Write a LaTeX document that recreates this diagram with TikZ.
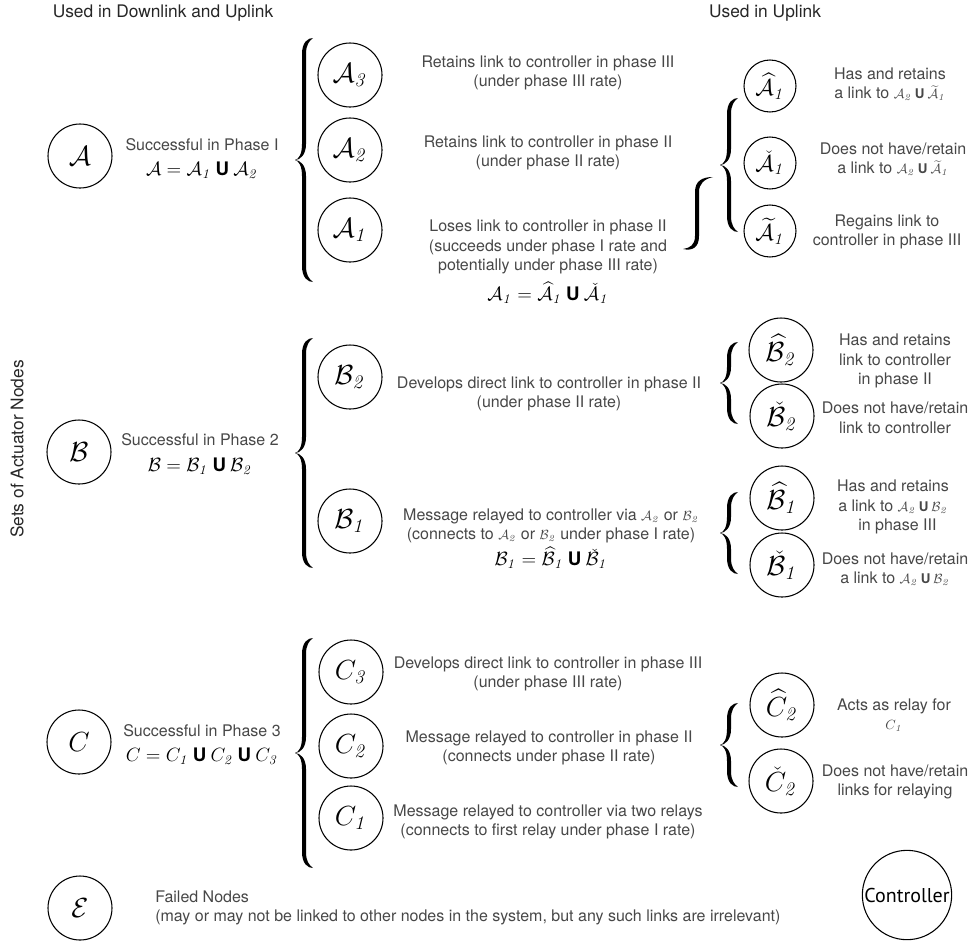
\documentclass[tikz,border=0pt]{standalone}
\usepackage{amsmath}
\usepackage{amssymb}
\usepackage[no-math]{fontspec}
\setmainfont{TeX Gyre Heros}
\newfontfamily\ctrlfont{PT Sans}
\usepackage{tikz}
\usetikzlibrary{positioning,calc}

\newcommand{\unionU}{\mathbin{\mbox{\bfseries U}}}
\newcommand{\ssub}[1]{_{\mathit{#1}}}
\newcommand{\sm}[1]{{\fontsize{10}{12}\selectfont$#1$}}

\tikzset{pics/curly/.style={code={
  \fill (18,-#1) .. controls (13,-#1) and (7,{-#1+4}) .. (7,{-#1+16}) -- (7,-16) .. controls (7,-6) and (4,-1) .. (0,0)
     .. controls (4,1) and (7,6) .. (7,16) -- (7,{#1-16}) .. controls (7,{#1-4}) and (13,#1) .. (18,#1)
     .. controls (14,{#1-3}) and (11,{#1-7}) .. (11,{#1-16}) -- (11,16) .. controls (11,5) and (5,0) .. (0,0)
     .. controls (5,0) and (11,-5) .. (11,-16) -- (11,{-#1+16}) .. controls (11,{-#1+7}) and (14,{-#1+3}) .. (18,-#1) -- cycle;
}}}

\begin{document}
\begin{tikzpicture}[x=0.75pt, y=-0.75pt,
  set/.style={circle, draw, line width=0.8pt, minimum size=48pt, inner sep=0pt, font=\fontsize{20}{24}\selectfont},
  part/.style={set, minimum size=39pt, font=\fontsize{18}{22}\selectfont},
  desc/.style={align=center, font=\fontsize{12}{14.6}\selectfont, text=black!72, inner sep=0pt},
  head/.style={font=\fontsize{13}{16}\selectfont, text=black!85},
  eq/.style={font=\fontsize{14}{17}\selectfont, inner sep=0pt}]

\useasboundingbox (0,0) rectangle (974,940);

\node[head](hdDL) at (163,13) {Used in Downlink and Uplink};
\node[head](hdUL) at (765,13) {Used in Uplink};
\node[head, rotate=90](side) at (17,449) {Sets of Actuator Nodes};

% phase I
\node[set](setA) at (80,156) {$\mathcal{A}$};
\node[desc](txtA) at (202,145) {Successful in Phase I};
\node[eq](eqA) at (202,170) {$\mathcal{A} = \mathcal{A}\ssub{1} \unionU \mathcal{A}\ssub{2}$};
\pic (brA) at (295,160) {curly=122};

\node[set](subA3) at (350,75) {$\mathcal{A}\ssub{3}$};
\node[set](subA2) at (350,150) {$\mathcal{A}\ssub{2}$};
\node[set](subA1) at (350,230) {$\mathcal{A}\ssub{1}$};
\node[desc](txtA3) at (548,73) {Retains link to controller in phase III\\(under phase III rate)};
\node[desc](txtA2) at (548,153) {Retains link to controller in phase II\\(under phase II rate)};
\node[desc](txtA1) at (548,247) {Loses link to controller in phase II\\(succeeds under phase I rate and\\potentially under phase III rate)};
\node[eq](eqA1) at (548,293) {$\mathcal{A}\ssub{1} = \widehat{\mathcal{A}}\ssub{1} \unionU \check{\mathcal{A}}\ssub{1}$};

% hook from A1 to its parts
\fill (683,249) .. controls (690,248) and (695,245) .. (695,236) -- (695,192) .. controls (695,181) and (702,177) .. (713,177)
  .. controls (704,179) and (699,184) .. (699,192) -- (699,236) .. controls (699,248) and (692,251) .. (683,249) -- cycle;
\pic (brA1) at (720,165) {curly=67};

\node[part](A1hat) at (770,86) {$\widehat{\mathcal{A}}\ssub{1}$};
\node[part](A1chk) at (770,163) {$\check{\mathcal{A}}\ssub{1}$};
\node[part](A1til) at (770,231) {$\widetilde{\mathcal{A}}\ssub{1}$};
\node[desc](txtA1hat) at (890,84) {Has and retains\\a link to \sm{\mathcal{A}\ssub{2}\unionU\widetilde{\mathcal{A}}\ssub{1}}};
\node[desc](txtA1chk) at (893,159) {Does not have/retain\\a link to \sm{\mathcal{A}\ssub{2}\unionU\widetilde{\mathcal{A}}\ssub{1}}};
\node[desc](txtA1til) at (887,232) {Regains link to\\controller in phase III};

% phase 2
\node[set](setB) at (79,452) {$\mathcal{B}$};
\node[desc](txtB) at (200,440) {Successful in Phase 2};
\node[eq](eqB) at (200,466) {$\mathcal{B} = \mathcal{B}\ssub{1} \unionU \mathcal{B}\ssub{2}$};
\pic (brB) at (295,453) {curly=115};

\node[set](subB2) at (350,377) {$\mathcal{B}\ssub{2}$};
\node[set](subB1) at (350,521) {$\mathcal{B}\ssub{1}$};
\node[desc](txtB2) at (549,394) {Develops direct link to controller in phase II\\(under phase II rate)};
\node[desc](txtB1) at (551,526) {Message relayed to controller via \sm{\mathcal{A}\ssub{2}} or \sm{\mathcal{B}\ssub{2}}\\(connects to \sm{\mathcal{A}\ssub{2}} or \sm{\mathcal{B}\ssub{2}} under phase I rate)};
\node[eq](eqB1) at (551,558) {$\mathcal{B}\ssub{1} = \widehat{\mathcal{B}}\ssub{1} \unionU \check{\mathcal{B}}\ssub{1}$};

\pic (brB2) at (720,383) {curly=41};
\pic (brB1) at (720,533) {curly=41};
\node[set](B2hat) at (781,350) {$\widehat{\mathcal{B}}\ssub{2}$};
\node[set](B2chk) at (782,416) {$\check{\mathcal{B}}\ssub{2}$};
\node[set](B1hat) at (782,498) {$\widehat{\mathcal{B}}\ssub{1}$};
\node[set](B1chk) at (782,565) {$\check{\mathcal{B}}\ssub{1}$};
\node[desc](txtB2hat) at (895,361) {Has and retains\\link to controller\\in phase II};
\node[desc](txtB2chk) at (895,418) {Does not have/retain\\link to controller};
\node[desc](txtB1hat) at (893,507) {Has and retains\\a link to \sm{\mathcal{A}\ssub{2}\unionU\mathcal{B}\ssub{2}}\\\ \ in phase III};
\node[desc](txtB1chk) at (895,569) {Does not have/retain\\a link to \sm{\mathcal{A}\ssub{2}\unionU\mathcal{B}\ssub{2}}};

% phase 3
\node[set](setC) at (79,742) {$C$};
\node[desc](txtC) at (202,731) {Successful in Phase 3};
\node[eq](eqC) at (202,756) {$C = C\ssub{1} \unionU C\ssub{2} \unionU C\ssub{3}$};
\pic (brC) at (295,753) {curly=115};

\node[set](subC3) at (351,672) {$C\ssub{3}$};
\node[set](subC2) at (351,746) {$C\ssub{2}$};
\node[set](subC1) at (351,818) {$C\ssub{1}$};
\node[desc](txtC3) at (548,674) {Develops direct link to controller in phase III\\(under phase III rate)};
\node[desc](txtC2) at (549,748) {Message relayed to controller in phase II\\(connects under phase II rate)};
\node[desc](txtC1) at (548,822) {Message relayed to controller via two relays\\(connects to first relay under phase I rate)};

\pic (brC2) at (720,745) {curly=42};
\node[set](C2hat) at (782,705) {$\widehat{C}\ssub{2}$};
\node[set](C2chk) at (781,781) {$\check{C}\ssub{2}$};
\node[desc](txtC2hat) at (894,715) {Acts as relay for\\\sm{C\ssub{1}}};
\node[desc](txtC2chk) at (895,782) {Does not have/retain\\links for relaying};

% failed
\node[set](setE) at (80,908) {$\mathcal{E}$};
\node[desc, align=left, anchor=west](txtE) at (155,908) {Failed Nodes\\(may or may not be linked to other nodes in the system, but any such links are irrelevant)};

\node[set, minimum size=67pt, font=\ctrlfont\fontsize{15}{18}\selectfont](ctrl) at (907,895) {Controller};
\end{tikzpicture}
\end{document}
